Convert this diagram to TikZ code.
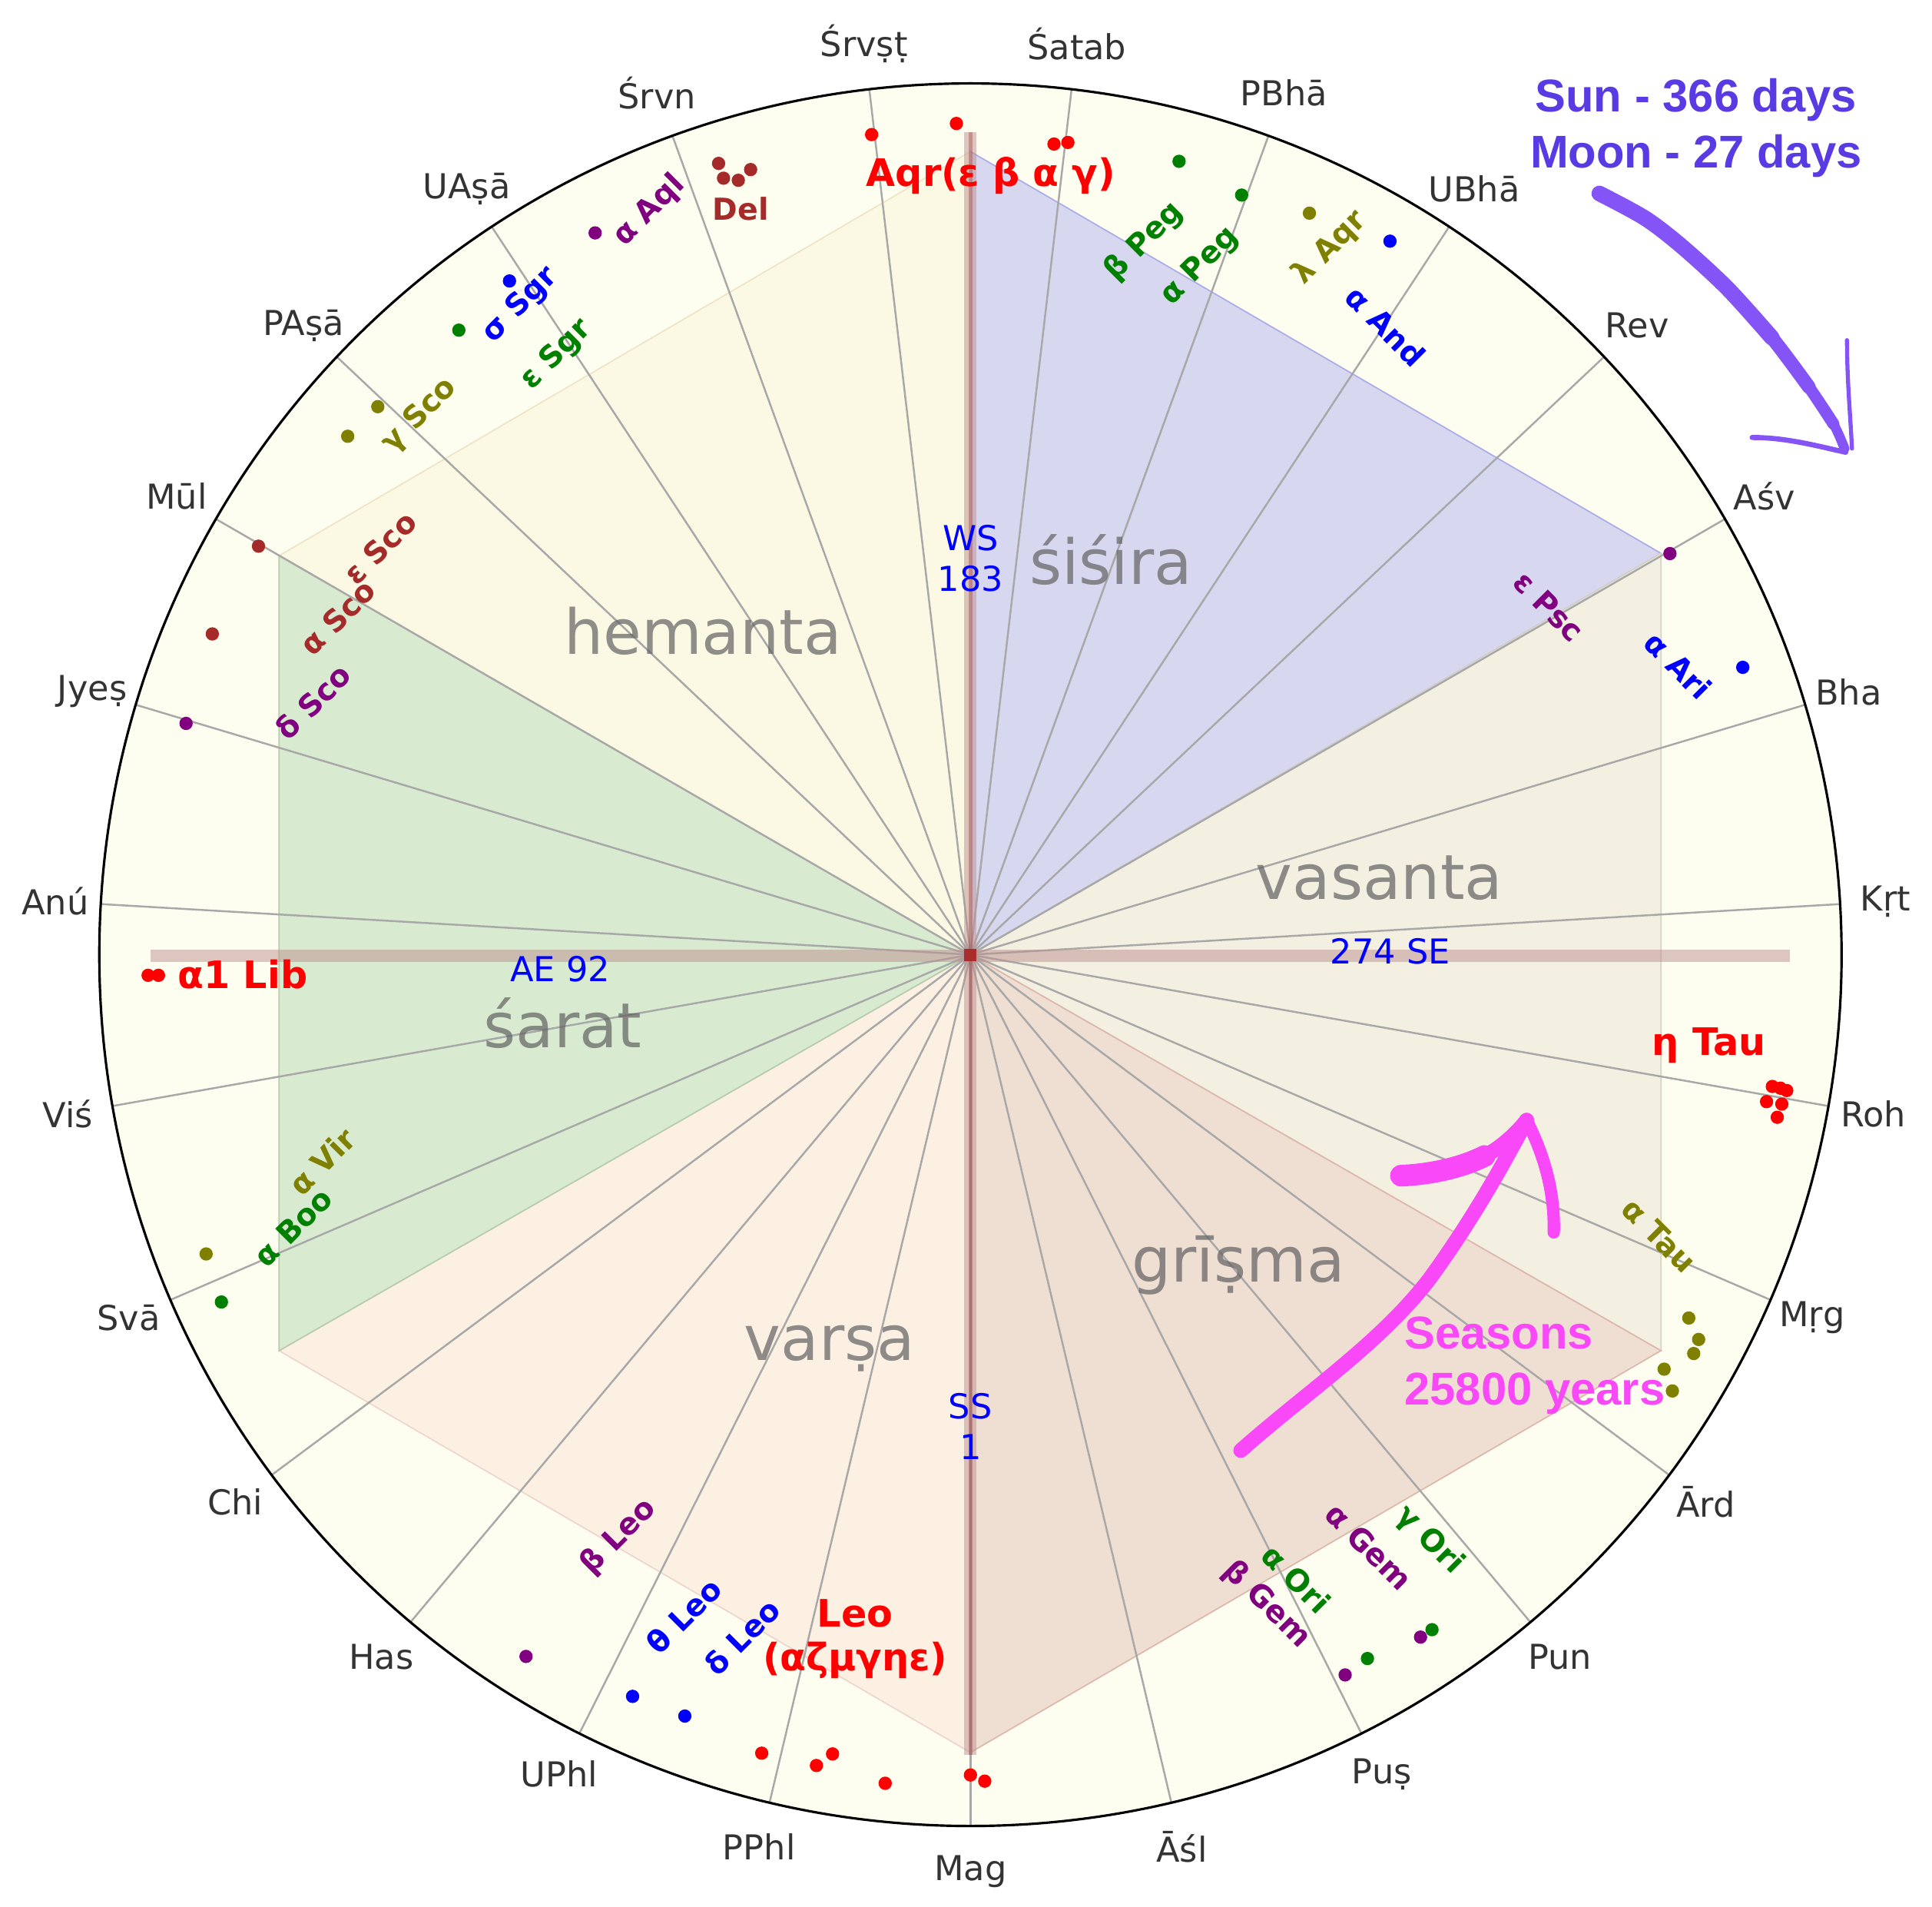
\documentclass[tikz,border=0pt]{standalone}
\usepackage{fontspec}
\setmainfont{DejaVu Sans}
\newfontfamily\handfont{Liberation Sans}

\definecolor{ringbg}{RGB}{253,254,240}
\definecolor{hemantaF}{RGB}{251,249,228}
\definecolor{hemantaE}{RGB}{240,228,200}
\definecolor{sisiraF}{RGB}{215,216,240}
\definecolor{sisiraE}{RGB}{172,172,232}
\definecolor{vasantaF}{RGB}{243,240,226}
\definecolor{vasantaE}{RGB}{214,210,198}
\definecolor{grismaF}{RGB}{239,222,210}
\definecolor{grismaE}{RGB}{222,184,172}
\definecolor{varsaF}{RGB}{252,240,227}
\definecolor{varsaE}{RGB}{238,214,204}
\definecolor{saratF}{RGB}{216,235,208}
\definecolor{saratE}{RGB}{184,204,174}
\definecolor{spokeG}{RGB}{168,168,168}
\definecolor{tickG}{RGB}{51,51,51}
\definecolor{seasonG}{RGB}{100,100,100}
\definecolor{barRB}{RGB}{188,143,143}
\definecolor{hubR}{RGB}{170,45,45}
\definecolor{stbrown}{RGB}{165,42,42}
\definecolor{stolive}{RGB}{128,128,0}
\definecolor{stgreen}{RGB}{0,128,0}
\definecolor{stpurple}{RGB}{128,0,128}
\definecolor{sunV}{RGB}{90,58,226}
\definecolor{sunA}{RGB}{132,84,246}
\definecolor{precM}{RGB}{249,72,248}

\begin{document}
\begin{tikzpicture}[x=0.01604cm,y=-0.01604cm,
  nakshatra/.style={font=\fontsize{12.7}{15}\selectfont,text=tickG},
  season/.style={font=\fontsize{23}{27}\selectfont,text=seasonG,text opacity=0.72,anchor=base},
  eqlabel/.style={font=\fontsize{12.7}{15.1}\selectfont,text=blue,align=center,inner sep=0pt},
  starbig/.style={font=\bfseries\fontsize{14}{16.2}\selectfont,text=red,align=center},
  starlbl/.style={font=\bfseries\fontsize{11.2}{13}\selectfont},
  handtext/.style={font=\handfont\bfseries\fontsize{17}{20.8}\selectfont,inner sep=0pt},
  spoke/.style={draw=spokeG,line width=0.7pt},
  axisbar/.style={draw=barRB,draw opacity=0.5,line width=4.6pt},
  hubmark/.style={fill=hubR,minimum size=0.16cm,inner sep=0pt},
  brush/.style={line cap=round,line join=round}]
  \useasboundingbox (0,0) rectangle (1568,1547);

  \coordinate (hub) at (787.6,774.7);
  \coordinate (vtop) at (787.6,123);
  \coordinate (vne) at (1348,449);
  \coordinate (vse) at (1348,1096);
  \coordinate (vbot) at (787.6,1422);
  \coordinate (vsw) at (226.5,1096);
  \coordinate (vnw) at (226.5,451);

  \fill[ringbg] (hub) circle (707);

  % seasons
  \filldraw[fill=sisiraF,draw=sisiraE,line width=0.5pt] (hub) -- (vtop) -- (vne) -- cycle;
  \filldraw[fill=vasantaF,draw=vasantaE,line width=0.5pt] (hub) -- (vne) -- (vse) -- cycle;
  \filldraw[fill=grismaF,draw=grismaE,line width=0.5pt] (hub) -- (vse) -- (vbot) -- cycle;
  \filldraw[fill=varsaF,draw=varsaE,line width=0.5pt] (hub) -- (vbot) -- (vsw) -- cycle;
  \filldraw[fill=saratF,draw=saratE,line width=0.5pt] (hub) -- (vsw) -- (vnw) -- cycle;
  \filldraw[fill=hemantaF,draw=hemantaE,line width=0.5pt] (hub) -- (vnw) -- (vtop) -- cycle;

  % nakshatras
  \begin{scope}[shift={(787.6,774.7)}]
    \foreach \k/\nm in {0/Mag,1/Āśl,2/Puṣ,3/Pun,4/Ārd,5/Mṛg,6/Roh,7/Kṛt,8/Bha,9/Aśv,
        10/Rev,11/UBhā,12/PBhā,13/Śatab,14/Śrvṣṭ,15/Śrvn,16/UAṣā,17/PAṣā,18/Mūl,
        19/Jyeṣ,20/Anú,21/Viś,22/Svā,23/Chi,24/Has,25/UPhl,26/PPhl} {
      \coordinate (rim\k) at ({-(270+\k*40/3)}:707);
      \draw[spoke] (hub) -- (rim\k);
      \node[nakshatra] (nk\k) at ({-(270+\k*40/3)}:744) {\nm};
    }
  \end{scope}

  \draw[axisbar] (122,775.4) -- (1452.6,775.4);
  \draw[axisbar] (787.6,107) -- (787.6,1424);
  \draw[stbrown,draw opacity=0.35,line width=1.3pt] (787.6,107) -- (787.6,1424);
  \node[hubmark] (hubsq) at (hub) {};
  \draw[line width=0.9pt] (hub) circle (707);

  \node[season] (sisira) at (901.6,474.3) {śiśira};
  \node[season] (hemanta) at (570.5,531) {hemanta};
  \node[season] (vasanta) at (1119.4,729.6) {vasanta};
  \node[season] (sarat) at (456.7,849.8) {śarat};
  \node[season] (varsa) at (673.2,1103.6) {varṣa};
  \node[season] (grisma) at (1005,1040) {grīṣma};

  \node[eqlabel] (ws) at (787.6,453.3) {WS\\183};
  \node[eqlabel] (ss) at (787.6,1157.4) {SS\\1};
  \node[eqlabel,anchor=base] (ae) at (454.6,796.4) {AE 92};
  \node[eqlabel,anchor=base] (se) at (1128.3,782) {274 SE};

  % stars
  \foreach \p in {(707.4,109.2),(776.2,100.2),(855.4,116.9),(866.7,115.6),(120.2,791.4),
      (128.6,791.4),(1438.4,881.6),(1450.1,884.9),(1445,883),(1433.7,893.9),(1446.1,895.9),
      (1442.4,906.6),(618.2,1422.6),(662.6,1432.6),(675.7,1423.2),(718.4,1447),
      (787.6,1440.3),(799.2,1445.3)}
    \fill[red] \p circle (5.4);
  \foreach \p in {(413.5,228),(1128.1,195.7),(1414.4,541.5),(555.8,1392.5),(513.4,1376.5)}
    \fill[blue] \p circle (5.4);
  \foreach \p in {(372.4,267.9),(956.9,130.9),(1007.7,158.3),(179.7,1056.5),(1162.2,1322.4),
      (1109.8,1345.8)}
    \fill[stgreen] \p circle (5.4);
  \foreach \p in {(306.6,330),(282.2,354),(1062.7,173),(167.3,1017.5),(1370.6,1069.5),
      (1378.6,1086.9),(1374.6,1098.3),(1350.6,1111),(1357.3,1128.7)}
    \fill[stolive] \p circle (5.4);
  \foreach \p in {(483,189),(151,587),(1355.3,449.2),(1152.9,1328.4),(1091.7,1359.1),
      (426.9,1344.1)}
    \fill[stpurple] \p circle (5.4);
  \foreach \p in {(209.8,443.2),(172.3,514.4),(583.2,132.6),(609.2,137.6),(587.2,144.6),
      (599.2,146.3)}
    \fill[stbrown] \p circle (5.4);

  \node[starbig,anchor=base] (aqr) at (804.1,151) {Aqr(ε β α γ)};
  \node[starbig,anchor=base] (lib) at (197,802.1) {α1 Lib};
  \node[starbig,anchor=base] (tau) at (1387,856.5) {η Tau};
  \node[starbig] (leo) at (694,1329.7) {Leo\\(αζμγηε)};
  \node[starlbl,text=stbrown,anchor=base] (del) at (601.2,178.7) {Del};

  \node[starlbl,text=stpurple,rotate=45] (aql) at (527,171) {α Aql};
  \node[starlbl,text=blue,rotate=45] (sgrs) at (422.5,247.8) {σ Sgr};
  \node[starlbl,text=stgreen,rotate=45] (sgre) at (451.6,287.9) {ε Sgr};
  \node[starlbl,text=stolive,rotate=45] (scog) at (340.7,337.3) {γ Sco};
  \node[starlbl,text=stbrown,rotate=45] (scoe) at (308.5,444.5) {ε Sco};
  \node[starlbl,text=stbrown,rotate=45] (scoa) at (274,501) {α Sco};
  \node[starlbl,text=stpurple,rotate=45] (scod) at (253.8,569.3) {δ Sco};
  \node[starlbl,text=stgreen,rotate=45] (pegb) at (928.6,196.2) {β Peg};
  \node[starlbl,text=stgreen,rotate=45] (pega) at (973.8,216.3) {α Peg};
  \node[starlbl,text=stolive,rotate=45] (aqrl) at (1079.4,201.2) {λ Aqr};
  \node[starlbl,text=blue,rotate=-45] (and) at (1124.5,264.7) {α And};
  \node[starlbl,text=stpurple,rotate=-45] (psc) at (1257,492) {ε Psc};
  \node[starlbl,text=blue,rotate=-45] (ari) at (1362,540) {α Ari};
  \node[starlbl,text=stolive,rotate=-45] (taua) at (1346.6,1002.7) {α Tau};
  \node[starlbl,text=stgreen,rotate=-45] (orig) at (1160,1250) {γ Ori};
  \node[starlbl,text=stpurple,rotate=-45] (gema) at (1111,1255) {α Gem};
  \node[starlbl,text=stgreen,rotate=-45] (oria) at (1052,1281) {α Ori};
  \node[starlbl,text=stpurple,rotate=-45] (gemb) at (1028,1302) {β Gem};
  \node[starlbl,text=stolive,rotate=45] (vir) at (261.4,942.6) {α Vir};
  \node[starlbl,text=stgreen,rotate=45] (boo) at (238,996) {α Boo};
  \node[starlbl,text=stpurple,rotate=45] (leob) at (502,1247) {β Leo};
  \node[starlbl,text=blue,rotate=45] (leot) at (555,1311) {θ Leo};
  \node[starlbl,text=blue,rotate=45] (leod) at (602.2,1328.3) {δ Leo};

  % notes
  \node[handtext,text=sunV,align=center] (sunmoon) at (1376.5,104.1) {Sun - 366 days\\Moon - 27 days};
  \coordinate (sunTail) at (1298,157);
  \coordinate (sunTip) at (1497,364);
  \draw[sunA,brush,line width=5.8pt] plot[smooth] coordinates {(sunTail) (1335,177) (1365,200) (1402,234) (1438,274)};
  \draw[sunA,brush,line width=5.1pt] plot[smooth] coordinates {(1402,234) (1438,274) (1468,314)};
  \draw[sunA,brush,line width=4.4pt] plot[smooth] coordinates {(1438,274) (1468,314) (1488,344)};
  \draw[sunA,brush,line width=3.6pt] plot[smooth] coordinates {(1468,314) (1488,344) (sunTip)};
  \draw[sunA,brush,line width=1.9pt] (1422,355) .. controls (1450,355) and (1475,362) .. (1498,367);
  \draw[sunA,brush,line width=1.5pt] (1499,276) .. controls (1499,310) and (1502,340) .. (1503,364);

  \node[handtext,text=precM,align=left,anchor=west] (prec) at (1139.5,1107.9) {Seasons\\25800 years};
  \coordinate (precTail) at (1007,1177);
  \coordinate (precTip) at (1239,909);
  \draw[precM,brush,line width=5.5pt] (precTail) .. controls (1060,1130) and (1120,1090) .. (1160,1038)
    .. controls (1195,990) and (1220,945) .. (precTip);
  \draw[precM,brush,line width=8pt] (1137,954) .. controls (1160,953) and (1185,948) .. (1205,938);
  \draw[precM,brush,line width=5.5pt] (1205,938) .. controls (1220,930) and (1232,918) .. (precTip);
  \draw[precM,brush,line width=4.6pt] (precTip) .. controls (1252,935) and (1262,965) .. (1261,1000);
\end{tikzpicture}
\end{document}
